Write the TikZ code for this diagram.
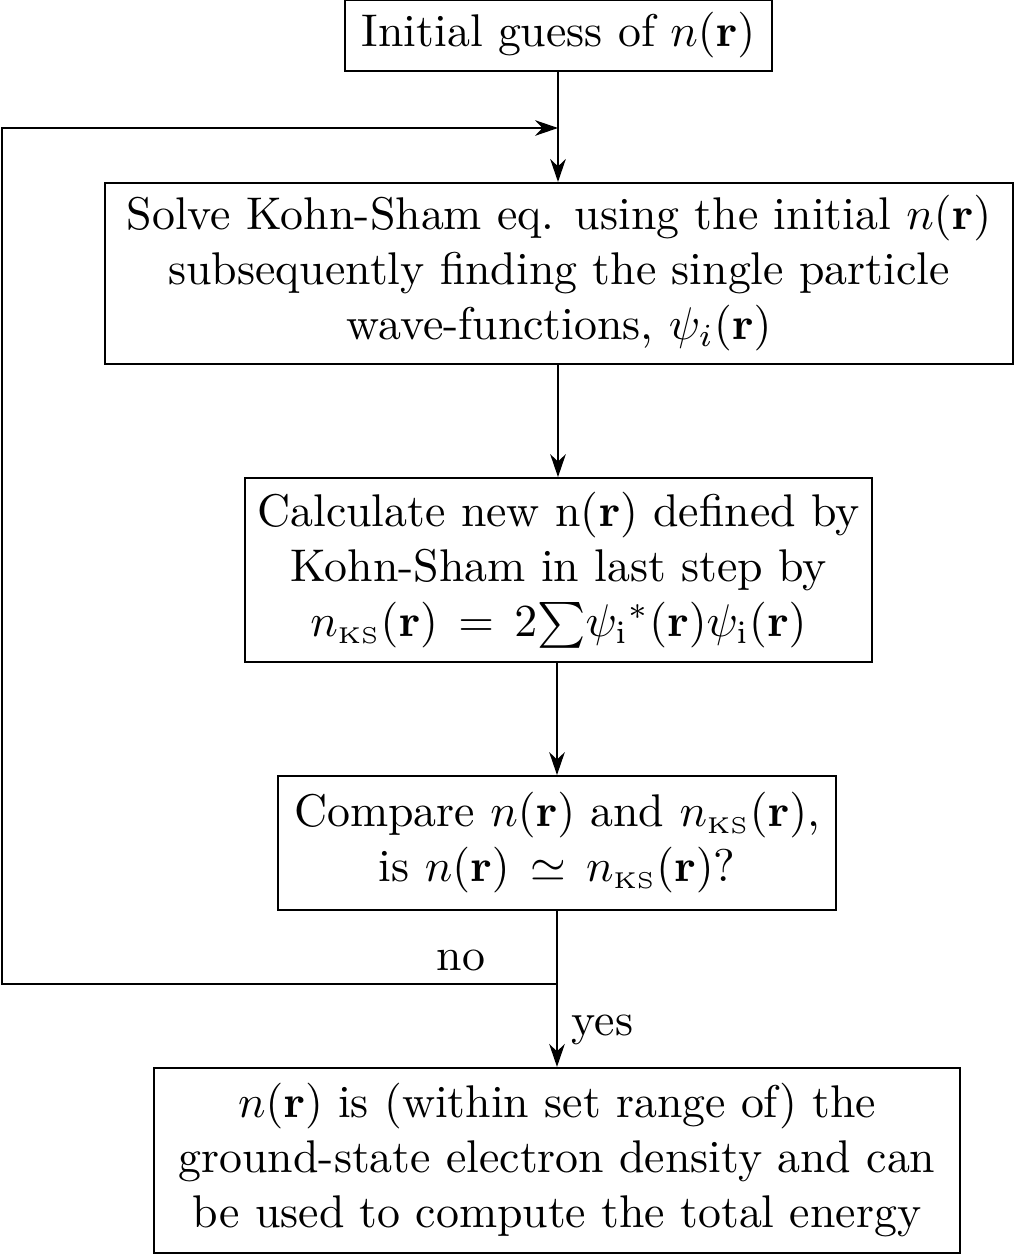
\documentclass[tikz,border=0pt]{standalone}
\usetikzlibrary{arrows.meta}
\newcommand{\ks}{\mathrm{\scriptscriptstyle KS}}
\begin{document}
\begin{tikzpicture}[x=0.2182pt,y=-0.2182pt,
  box/.style={draw, line width=0.45pt, align=center, inner sep=0pt},
  arr/.style={-{Stealth[length=5pt,width=3.4pt,inset=1.6pt]}, line width=0.45pt},
  lbl/.style={inner sep=0pt}]
\useasboundingbox (0,0) rectangle (1014,1255);
\node[box, minimum width=93.2pt, minimum height=15.5pt] (init) at (558.5,35.5) {Initial guess of $n(\mathbf{r})$};
\node[box, minimum width=198.1pt, minimum height=39.5pt] (solve) at (559,273.5) {Solve Kohn-Sham eq. using the initial $n(\mathbf{r})$\\ subsequently finding the single particle\\ wave-functions, $\psi_i(\mathbf{r})$};
\node[box, minimum width=136.8pt, minimum height=40.1pt] (calc) at (558.5,570) {Calculate new n($\mathbf{r}$) defined by\\ Kohn-Sham in last step by\\ $n_{\ks}(\mathbf{r}) \,=\, 2\mathord{\sum}\psi_{\mathrm{i}}{}^*(\mathbf{r})\psi_{\mathrm{i}}(\mathbf{r})$};
\node[box, minimum width=121.8pt, minimum height=29.2pt] (comp) at (557,843) {Compare $n(\mathbf{r})$ and $n_{\ks}(\mathbf{r})$,\\ is $n(\mathbf{r}) \,\simeq\, n_{\ks}(\mathbf{r})$?};
\node[box, minimum width=175.9pt, minimum height=40.4pt] (result) at (557,1160.5) {$n(\mathbf{r})$ is (within set range of) the\\ ground-state electron density and can\\ be used to compute the total energy};
\coordinate (merge) at (558,128);
\coordinate (split) at (557,984);
\coordinate (cl) at (2,984);
\coordinate (ct) at (2,128);
\draw[arr] (init.south -| merge) -- (solve.north -| merge);
\draw[arr] (solve.south -| merge) -- (calc.north -| merge);
\draw[arr] (calc.south -| split) -- (comp.north -| split);
\draw[arr] (comp.south -| split) -- node[lbl, right, pos=0.76, xshift=3pt] (yes) {yes} (result.north -| split);
\draw[arr] (split) -- (cl) -- (ct) -- (merge);
\node[lbl] (no) at (461,960) {no};
\end{tikzpicture}
\end{document}
